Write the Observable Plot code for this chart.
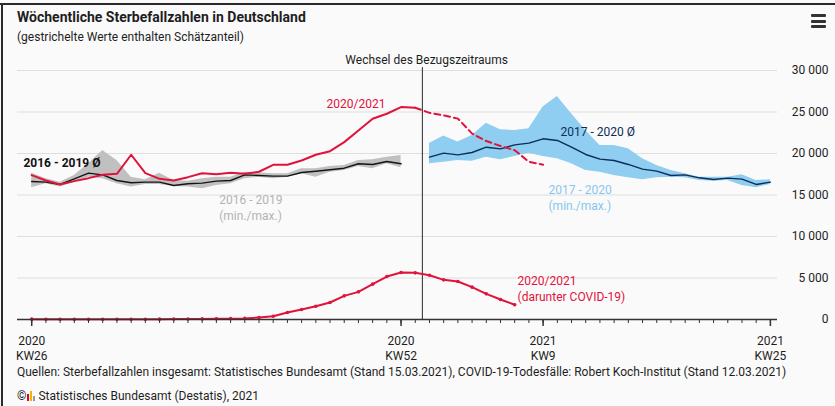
<!DOCTYPE html>
<html><head><meta charset="utf-8">
<script src="https://cdn.jsdelivr.net/npm/d3@7"></script>
<script src="https://cdn.jsdelivr.net/npm/@observablehq/plot@0.6"></script>
<style>
html,body{margin:0;padding:0;background:#fafafa;}
body{width:835px;height:406px;position:relative;overflow:hidden;font-family:Roboto,"Noto Sans",sans-serif;color:#1e1e1e;}
#frameTop{position:absolute;left:0;top:3px;width:835px;height:2px;background:#2a2a2a;}
#frameLeft{position:absolute;left:1px;top:3px;width:2px;height:406px;background:#2a2a2a;}
#title{position:absolute;left:17px;top:9px;font-weight:700;font-size:14px;line-height:17px;white-space:nowrap;}
#subtitle{position:absolute;left:17px;top:30px;font-size:12px;line-height:15px;white-space:nowrap;}
.bar{position:absolute;left:811px;width:15px;height:3px;background:#333;border-radius:1px;}
#chart{position:absolute;left:0;top:45px;}
#source{position:absolute;left:17px;top:365px;font-size:12px;line-height:15px;white-space:nowrap;}
#copy{position:absolute;left:17px;top:389px;font-size:12px;line-height:15px;white-space:nowrap;}
#copy svg{vertical-align:-1px;margin:0 2px 0 1px;}
</style>
</head><body>
<div id="frameTop"></div><div id="frameLeft"></div>
<div id="title">Wöchentliche Sterbefallzahlen in Deutschland</div>
<div id="subtitle">(gestrichelte Werte enthalten Schätzanteil)</div>
<div class="bar" style="top:14px"></div><div class="bar" style="top:19.5px"></div><div class="bar" style="top:25px"></div>
<div id="chart"></div>
<div id="source">Quellen: Sterbefallzahlen insgesamt: Statistisches Bundesamt (Stand 15.03.2021), COVID-19-Todesfälle: Robert Koch-Institut (Stand 12.03.2021)</div>
<div id="copy">©<svg width="9" height="10" viewBox="0 0 9 10"><rect x="0" y="3" width="2" height="7" fill="#e2001a"/><rect x="3" y="0" width="2" height="10" fill="#f0b400"/><rect x="6" y="5" width="2" height="5" fill="#999"/></svg>Statistisches Bundesamt (Destatis), 2021</div>
<script>
// Week categories: 2020 KW26 … KW53, 2021 KW1 … KW25
const weekLabels = [
  "2020 KW26","2020 KW27","2020 KW28","2020 KW29","2020 KW30","2020 KW31","2020 KW32","2020 KW33","2020 KW34","2020 KW35",
  "2020 KW36","2020 KW37","2020 KW38","2020 KW39","2020 KW40","2020 KW41","2020 KW42","2020 KW43","2020 KW44","2020 KW45",
  "2020 KW46","2020 KW47","2020 KW48","2020 KW49","2020 KW50","2020 KW51","2020 KW52","2020 KW53",
  "2021 KW1","2021 KW2","2021 KW3","2021 KW4","2021 KW5","2021 KW6","2021 KW7","2021 KW8","2021 KW9","2021 KW10",
  "2021 KW11","2021 KW12","2021 KW13","2021 KW14","2021 KW15","2021 KW16","2021 KW17","2021 KW18","2021 KW19","2021 KW20",
  "2021 KW21","2021 KW22","2021 KW23","2021 KW24","2021 KW25"
];
const majorTicks = {"2020 KW26":"2020\nKW26","2020 KW52":"2020\nKW52","2021 KW9":"2021\nKW9","2021 KW25":"2021\nKW25"};

// Sterbefälle 2020/2021 (from 2020 KW26); last values (from 2020 KW53) contain estimates
const deaths2021 = [17400,16750,16270,16670,17030,17430,17550,19850,17630,16950,16750,17150,17630,17510,17680,17550,17800,
  18640,18640,19160,19850,20280,21370,22770,24180,24790,25590,25510,24900,24600,24200,22400,21500,20900,20400,19000,18650];
const firstEstimated = "2020 KW53";
// 2016–2019 average, min, max (2020 KW26 … KW52)
const avg1619 = [16630,16550,16270,16950,17630,17430,16750,16470,16550,16550,16150,16350,16430,16670,16750,17430,17350,17270,17270,17710,17870,18040,18230,18760,18680,19040,18760];
const min1619 = [15870,16350,15950,16550,17150,16950,16350,15950,16270,16270,16030,15950,15750,16150,16350,16950,17150,16950,17150,17550,17150,17750,17950,18430,18150,18760,18270];
const max1619 = [17630,16950,16550,17350,18760,20360,19160,17150,16830,17630,16750,16670,16950,17150,17150,17750,17670,17550,17550,18150,18150,18430,18560,19160,19240,19560,19760];
// 2017–2020 average, min, max (2021 KW1 … KW25)
const avg1720 = [19560,20040,19840,20120,20760,20560,21040,21250,21770,21570,20760,19880,19320,19160,18680,18120,17870,17350,17430,17070,16870,17030,16910,16270,16550];
const min1720 = [18760,18960,19160,19080,19560,19240,19640,20040,19640,19360,18760,17950,17750,17350,17070,16830,17070,17150,17070,16750,16670,16750,16150,15870,16270];
const max1720 = [21200,22100,21400,22170,23650,22850,22770,22970,25590,26860,24780,22770,20960,20960,20560,19360,18560,17950,17550,17150,17150,17150,17430,16750,16830];
// COVID-19 deaths (from 2020 KW26 to 2021 KW7)
const covid = [40,30,25,20,20,25,25,30,30,40,50,60,70,80,100,130,250,400,840,1200,1600,2050,2850,3330,4260,5180,5660,5620,5340,4780,4580,3900,3090,2410,1770];

const yTicks = [0,5000,10000,15000,20000,25000,30000];

const idxOf = Object.fromEntries(weekLabels.map((w,i)=>[w,i]));
const series = (vals, start) => vals.map((v,i)=>({x: idxOf[start]+i, y: v}));
const totalRows = series(deaths2021, "2020 KW26");
const estIdx = idxOf[firstEstimated];
const solidRows = totalRows.filter(d=>d.x<=estIdx);
const dashRows = totalRows.filter(d=>d.x>=estIdx);
const band1619 = avg1619.map((v,i)=>({x: idxOf["2020 KW26"]+i, avg: v, lo: min1619[i], hi: max1619[i]}));
const band1720 = avg1720.map((v,i)=>({x: idxOf["2021 KW1"]+i, avg: v, lo: min1720[i], hi: max1720[i]}));
const covidRows = series(covid, "2020 KW26");
const changeAt = (idxOf["2020 KW53"] + idxOf["2021 KW1"]) / 2;

const loc = d3.formatLocale({decimal:",", thousands:" ", grouping:[3], currency:["","€"]});
const yFmt = loc.format(",d");

const red = "#e0133b", navy = "#0c2d57", blueFill = "#8fcdf1", greyFill = "#c0c0c0";
const font = {fontFamily:"Roboto", fontSize:12};

const chart = Plot.plot({
  width: 835, height: 320,
  marginTop: 25, marginBottom: 46, marginLeft: 17, marginRight: 58,
  style: {background:"transparent", fontFamily:"Roboto", fontSize:"12px", color:"#1e1e1e", overflow:"visible"},
  x: {type:"linear", domain:[-1, 52.5], label:null},
  y: {domain:[0, 30000], label:null},
  marks: [
    Plot.gridY(yTicks.filter(d=>d>0), {stroke:"#dedede", strokeOpacity:1}),
    Plot.areaY(band1619, {x:"x", y1:"lo", y2:"hi", fill:greyFill}),
    Plot.areaY(band1720, {x:"x", y1:"lo", y2:"hi", fill:blueFill}),
    Plot.ruleX([changeAt], {y1:0, y2:30350, stroke:"#2a2a2a", strokeWidth:1}),
    Plot.line(band1619, {x:"x", y:"avg", stroke:"#141414", strokeWidth:1.4}),
    Plot.line(band1720, {x:"x", y:"avg", stroke:navy, strokeWidth:1.4}),
    Plot.line(solidRows, {x:"x", y:"y", stroke:red, strokeWidth:2}),
    Plot.line(dashRows, {x:"x", y:"y", stroke:red, strokeWidth:2, strokeDasharray:"6,4"}),
    Plot.line(covidRows, {x:"x", y:"y", stroke:red, strokeWidth:2}),
    Plot.dot(covidRows, {x:"x", y:"y", r:1.8, fill:red}),
    Plot.ruleY([0], {stroke:"#333", strokeWidth:1.5}),
    Plot.axisX({ticks: weekLabels.map((w,i)=>i), tickSize:4, tickFormat:()=>"", stroke:"#333", label:null}),
    Plot.axisX({ticks: Object.keys(majorTicks).map(k=>idxOf[k]), tickSize:7, tickPadding:7, label:null,
      tickFormat: i => majorTicks[weekLabels[i]], lineHeight:1.3, stroke:"#333", strokeWidth:1.5, fill:"#1e1e1e", ...font}),
    Plot.axisY({anchor:"right", ticks:yTicks, tickSize:0, tickPadding:51, textAnchor:"end", tickFormat:yFmt, fill:"#1e1e1e", label:null, ...font}),
    // annotations
    Plot.text(["Wechsel des Bezugszeitraums"], {x:27.8, y:31300, text:d=>d, fill:"#1e1e1e", textAnchor:"middle", ...font}),
    Plot.text(["2016 - 2019 Ø"], {x:-0.58, y:18800, text:d=>d, fill:"#111", fontWeight:"bold", textAnchor:"start", ...font}),
    Plot.text(["2016 - 2019\n(min./max.)"], {x:13.2, y:13560, text:d=>d, fill:"#b3b3b3", textAnchor:"start", lineHeight:1.3, ...font}),
    Plot.text(["2020/2021"], {x:20.75, y:25990, text:d=>d, fill:red, textAnchor:"start", ...font}),
    Plot.text(["2017 - 2020 Ø"], {x:37.22, y:22570, text:d=>d, fill:navy, textAnchor:"start", ...font}),
    Plot.text(["2017 - 2020\n(min./max.)"], {x:36.38, y:14740, text:d=>d, fill:"#86c7ee", textAnchor:"start", lineHeight:1.3, ...font}),
    Plot.text(["2020/2021\n(darunter COVID-19)"], {x:34.2, y:3800, text:d=>d, fill:red, textAnchor:"start", lineHeight:1.3, ...font})
  ]
});
document.getElementById("chart").appendChild(chart);
</script>
</body></html>
